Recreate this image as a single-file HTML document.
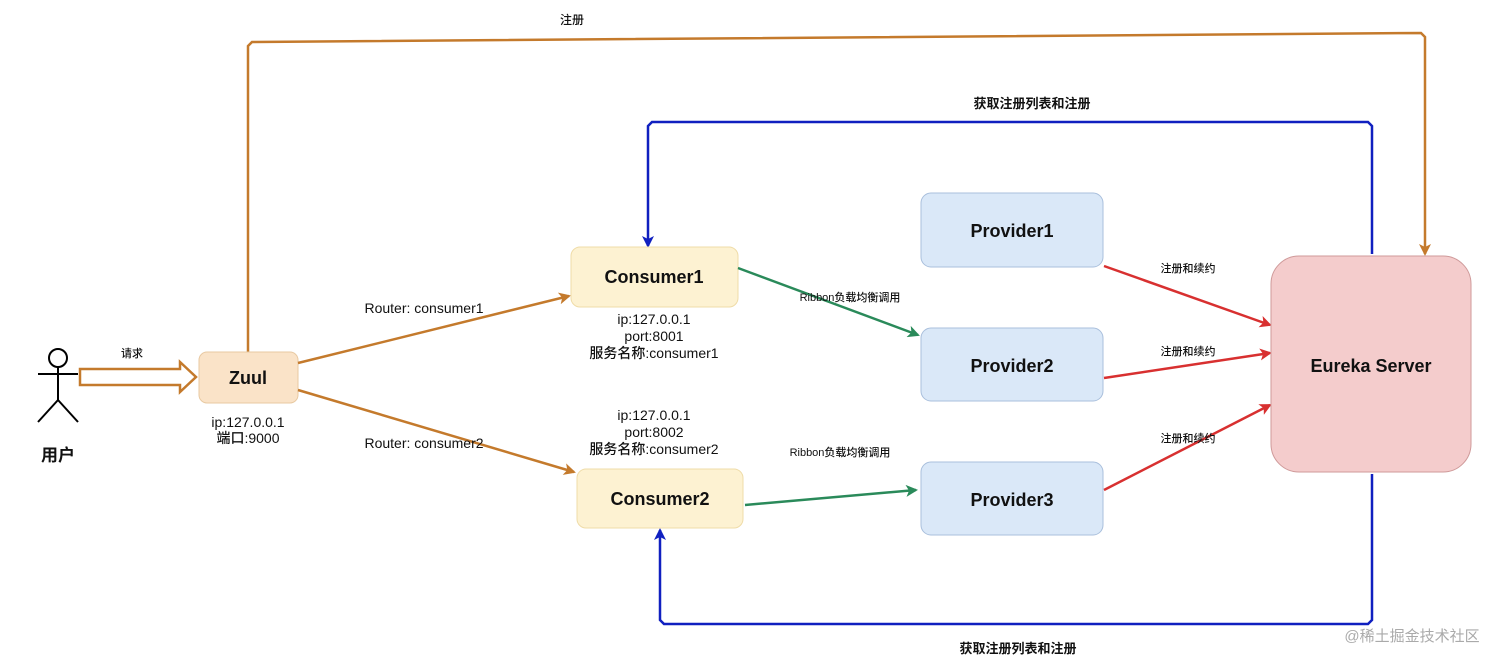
<!DOCTYPE html>
<html><head><meta charset="utf-8"><style>
html,body{margin:0;padding:0;background:#fff;}
svg{display:block;font-family:"Liberation Sans","Noto Sans CJK SC",sans-serif;}
.b{font-weight:bold;font-size:18px;fill:#111;}
.s{font-size:14px;fill:#111;font-weight:500;}
.t{font-size:11px;fill:#111;font-weight:500;}
.c{font-size:13px;fill:#111;font-weight:bold;}
</style></head><body>
<svg width="1512" height="665" viewBox="0 0 1512 665" xmlns="http://www.w3.org/2000/svg">
<defs>
<marker id="ao" markerWidth="12" markerHeight="12" refX="10" refY="6" orient="auto" markerUnits="userSpaceOnUse"><path d="M0,0 L12,6 L0,12 L3,6 z" fill="#c47a2c"/></marker>
<marker id="ab" markerWidth="12" markerHeight="12" refX="10" refY="6" orient="auto" markerUnits="userSpaceOnUse"><path d="M0,0 L12,6 L0,12 L3,6 z" fill="#1020c0"/></marker>
<marker id="ag" markerWidth="12" markerHeight="12" refX="10" refY="6" orient="auto" markerUnits="userSpaceOnUse"><path d="M0,0 L12,6 L0,12 L3,6 z" fill="#2a8a5a"/></marker>
<marker id="ar" markerWidth="12" markerHeight="12" refX="10" refY="6" orient="auto" markerUnits="userSpaceOnUse"><path d="M0,0 L12,6 L0,12 L3,6 z" fill="#d83030"/></marker>
</defs>

<polyline points="248,352 248,46 252,42 1421,33 1425,37 1425,254" fill="none" stroke="#c47a2c" stroke-width="2.5" marker-end="url(#ao)"/>
<text x="572" y="24" class="t" text-anchor="middle" style="font-size:12px">注册</text>

<polyline points="1372,254 1372,126 1368,122 652,122 648,126 648,246" fill="none" stroke="#1020c0" stroke-width="2.5" marker-end="url(#ab)"/>
<text x="1032" y="108" class="c" text-anchor="middle">获取注册列表和注册</text>
<polyline points="1372,474 1372,620 1368,624 664,624 660,620 660,530" fill="none" stroke="#1020c0" stroke-width="2.5" marker-end="url(#ab)"/>
<text x="1018" y="653" class="c" text-anchor="middle">获取注册列表和注册</text>

<circle cx="58" cy="358" r="9" fill="none" stroke="#000" stroke-width="2"/>
<line x1="58" y1="367" x2="58" y2="400" stroke="#000" stroke-width="2"/>
<line x1="38" y1="374" x2="78" y2="374" stroke="#000" stroke-width="2"/>
<line x1="58" y1="400" x2="38" y2="422" stroke="#000" stroke-width="2"/>
<line x1="58" y1="400" x2="78" y2="422" stroke="#000" stroke-width="2"/>
<text x="58" y="461" class="b" text-anchor="middle" style="font-size:17px">用户</text>

<path d="M80,369 L180,369 L180,362 L196,377 L180,392 L180,385 L80,385 z" fill="#fff" stroke="#c47a2c" stroke-width="2.5"/>
<text x="132" y="357" class="t" text-anchor="middle">请求</text>

<rect x="199" y="352" width="99" height="51" rx="8" fill="#fae3c8" stroke="#e8c9a2"/>
<text x="248" y="384" class="b" text-anchor="middle">Zuul</text>
<text x="248" y="427" class="s" text-anchor="middle">ip:127.0.0.1</text>
<text x="248" y="443" class="s" text-anchor="middle">端口:9000</text>

<line x1="298" y1="363" x2="569" y2="296" stroke="#c47a2c" stroke-width="2.5" marker-end="url(#ao)"/>
<line x1="298" y1="390" x2="574" y2="472" stroke="#c47a2c" stroke-width="2.5" marker-end="url(#ao)"/>
<text x="424" y="313" class="s" text-anchor="middle">Router: consumer1</text>
<text x="424" y="448" class="s" text-anchor="middle">Router: consumer2</text>

<rect x="571" y="247" width="167" height="60" rx="9" fill="#fdf2d2" stroke="#efdca8"/>
<text x="654" y="283" class="b" text-anchor="middle">Consumer1</text>
<text x="654" y="324" class="s" text-anchor="middle">ip:127.0.0.1</text>
<text x="654" y="341" class="s" text-anchor="middle">port:8001</text>
<text x="654" y="358" class="s" text-anchor="middle">服务名称:consumer1</text>
<text x="654" y="420" class="s" text-anchor="middle">ip:127.0.0.1</text>
<text x="654" y="437" class="s" text-anchor="middle">port:8002</text>
<text x="654" y="454" class="s" text-anchor="middle">服务名称:consumer2</text>
<rect x="577" y="469" width="166" height="59" rx="9" fill="#fdf2d2" stroke="#efdca8"/>
<text x="660" y="505" class="b" text-anchor="middle">Consumer2</text>

<line x1="738" y1="268" x2="918" y2="335" stroke="#2a8a5a" stroke-width="2.5" marker-end="url(#ag)"/>
<line x1="745" y1="505" x2="916" y2="490" stroke="#2a8a5a" stroke-width="2.5" marker-end="url(#ag)"/>
<text x="850" y="301" class="t" text-anchor="middle">Ribbon负载均衡调用</text>
<text x="840" y="456" class="t" text-anchor="middle">Ribbon负载均衡调用</text>

<rect x="921" y="193" width="182" height="74" rx="10" fill="#dae8f8" stroke="#a9bfdc"/>
<text x="1012" y="237" class="b" text-anchor="middle">Provider1</text>
<rect x="921" y="328" width="182" height="73" rx="10" fill="#dae8f8" stroke="#a9bfdc"/>
<text x="1012" y="372" class="b" text-anchor="middle">Provider2</text>
<rect x="921" y="462" width="182" height="73" rx="10" fill="#dae8f8" stroke="#a9bfdc"/>
<text x="1012" y="506" class="b" text-anchor="middle">Provider3</text>

<line x1="1104" y1="266" x2="1270" y2="325" stroke="#d83030" stroke-width="2.5" marker-end="url(#ar)"/>
<line x1="1104" y1="378" x2="1270" y2="353" stroke="#d83030" stroke-width="2.5" marker-end="url(#ar)"/>
<line x1="1104" y1="490" x2="1270" y2="405" stroke="#d83030" stroke-width="2.5" marker-end="url(#ar)"/>
<text x="1188" y="272" class="t" text-anchor="middle">注册和续约</text>
<text x="1188" y="355" class="t" text-anchor="middle">注册和续约</text>
<text x="1188" y="442" class="t" text-anchor="middle">注册和续约</text>

<rect x="1271" y="256" width="200" height="216" rx="28" fill="#f4cccc" stroke="#cf9a9a"/>
<text x="1371" y="372" class="b" text-anchor="middle">Eureka Server</text>

<text x="1412" y="641" text-anchor="middle" style="font-size:15px;fill:#aaa">@稀土掘金技术社区</text>
</svg>
</body></html>
